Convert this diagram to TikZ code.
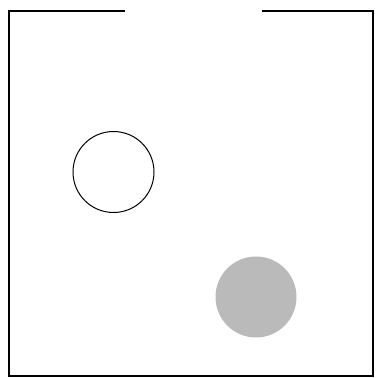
\documentclass[tikz,border=0pt]{standalone}
\begin{document}
\begin{tikzpicture}[x=1pt,y=-1pt]
            \useasboundingbox (0,0) rectangle (377,378);
            % Hộp có khe hở phía trên
            \draw[line width=1.4pt] (125,11) -- (9,11) -- (9,376) -- (373,376) -- (373,11) -- (262,11);
            % Hình tròn rỗng
            \node[circle,draw,line width=1pt,minimum size=81pt,inner sep=0pt] (rong) at (113.5,172) {};
            % Hình tròn tô xám
            \node[circle,fill=black!27,minimum size=81pt,inner sep=0pt] (xam) at (256,297) {};
    \end{tikzpicture}
\end{document}
